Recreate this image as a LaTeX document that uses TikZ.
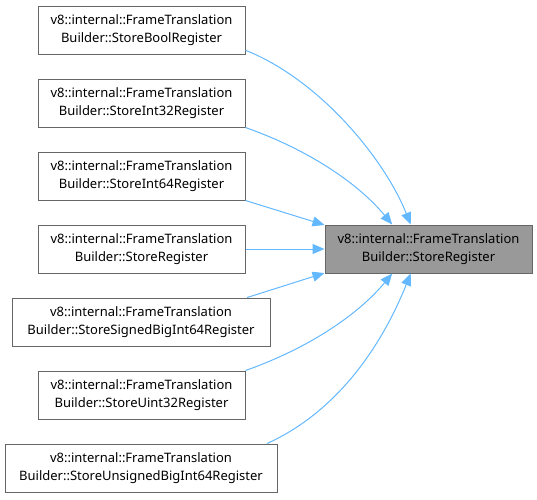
\documentclass[tikz,border=0pt]{standalone}
\usepackage{fontspec}
\setmainfont{Noto Sans}
\usepackage{tikz}
\usetikzlibrary{arrows.meta, positioning}
\definecolor{edgeblue}{RGB}{99,184,255}
\definecolor{boxline}{RGB}{102,102,102}
\definecolor{boxfill}{RGB}{153,153,153}

\begin{document}
\begin{tikzpicture}[x=1pt, y=-1pt, font=\fontsize{13}{18}\selectfont,
  fnbox/.style={draw=boxline, line width=1pt, fill=white, align=center, inner sep=0pt, minimum height=48pt},
  callee/.style={fnbox, fill=boxfill},
  call/.style={edgeblue, line width=1pt, -{Triangle[length=12pt,width=10pt]}}]
  \useasboundingbox (0,0) rectangle (537,499);
  % callers, top to bottom
  \node[fnbox, minimum width=207pt] (bool) at (141.5,30) {v8::internal::FrameTranslation\\Builder::StoreBoolRegister};
  \node[fnbox, minimum width=207pt] (i32) at (141.5,103) {v8::internal::FrameTranslation\\Builder::StoreInt32Register};
  \node[fnbox, minimum width=207pt] (i64) at (141.5,176) {v8::internal::FrameTranslation\\Builder::StoreInt64Register};
  \node[fnbox, minimum width=207pt] (reg) at (141.5,249) {v8::internal::FrameTranslation\\Builder::StoreRegister};
  \node[fnbox, minimum width=258pt] (sbig) at (141,322) {v8::internal::FrameTranslation\\Builder::StoreSignedBigInt64Register};
  \node[fnbox, minimum width=207pt] (u32) at (141.5,395) {v8::internal::FrameTranslation\\Builder::StoreUint32Register};
  \node[fnbox, minimum width=272pt] (ubig) at (141,468) {v8::internal::FrameTranslation\\Builder::StoreUnsignedBigInt64Register};
  % callee
  \node[callee, minimum width=207pt] (store) at (428.5,249) {v8::internal::FrameTranslation\\Builder::StoreRegister};
  % edges
  \draw[call] (bool.-11) .. controls +(75,30) and +(-26,-65) .. (store.126);
  \draw[call] (i32.south east) .. controls +(65,23) and +(-33,-40) .. (store.146);
  \draw[call] (i64.south east) -- (store.167);
  \draw[call] (reg.east) -- (store.west);
  \draw[call] (sbig.13.6) -- (store.193);
  \draw[call] (u32.north east) .. controls +(65,-23) and +(-33,40) .. (store.214);
  \draw[call] (ubig.11.9) .. controls +(75,-34) and +(-26,65) .. (store.234);
\end{tikzpicture}
\end{document}
